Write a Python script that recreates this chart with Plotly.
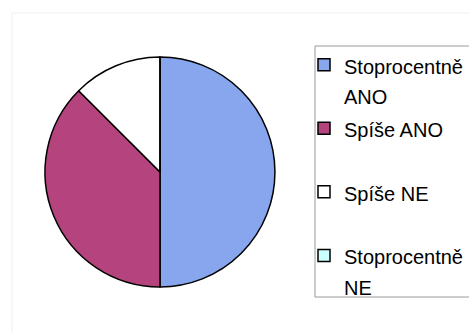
import plotly.graph_objects as go

W, H = 469, 333

labels = ["Stoprocentně ANO", "Spíše ANO", "Spíše NE", "Stoprocentně NE"]
legend_text = ["Stoprocentně<br>ANO", "Spíše ANO<br> ", "Spíše NE<br> ", "Stoprocentně<br>NE"]
values = [4, 3, 1, 0]
colors = ["#88A6EE", "#B4437E", "#FFFFFF", "#CCFFFF"]

disp = [f"<span style='font-size:20px'>{t}</span>" for t in legend_text]

fig = go.Figure(go.Pie(
    labels=disp,
    values=values,
    sort=False,
    direction="clockwise",
    rotation=0,
    textinfo="none",
    hoverinfo="none",
    marker=dict(colors=colors, line=dict(color="#000000", width=1.5)),
    domain=dict(x=[45 / W, 275 / W], y=[1 - 287 / H, 1 - 57 / H]),
))

fig.update_layout(
    width=W, height=H,
    margin=dict(l=0, r=0, t=0, b=0, autoexpand=False),
    paper_bgcolor="white",
    plot_bgcolor="white",
    font=dict(family="Arial, Liberation Sans, sans-serif", color="#000000"),
    legend=dict(
        x=304 / W, y=1 - 43 / H, xanchor="left", yanchor="top",
        bgcolor="rgba(0,0,0,0)", borderwidth=0,
        font=dict(size=23.3, family="Arial, Liberation Sans, sans-serif", color="#000000"),
        valign="top",
        itemwidth=30,
        traceorder="normal",
    ),
    shapes=[
        dict(type="rect", xref="paper", yref="paper",
             x0=12 / W, x1=1.05, y0=-0.05, y1=1 - 13 / H,
             line=dict(color="#EFEFEF", width=1), fillcolor="rgba(0,0,0,0)"),
        dict(type="rect", xref="paper", yref="paper",
             x0=315 / W, x1=1.05, y0=1 - 297 / H, y1=1 - 46 / H,
             line=dict(color="#9A9A9A", width=1), fillcolor="rgba(0,0,0,0)"),
    ],
)

fig.write_html("out.html")
